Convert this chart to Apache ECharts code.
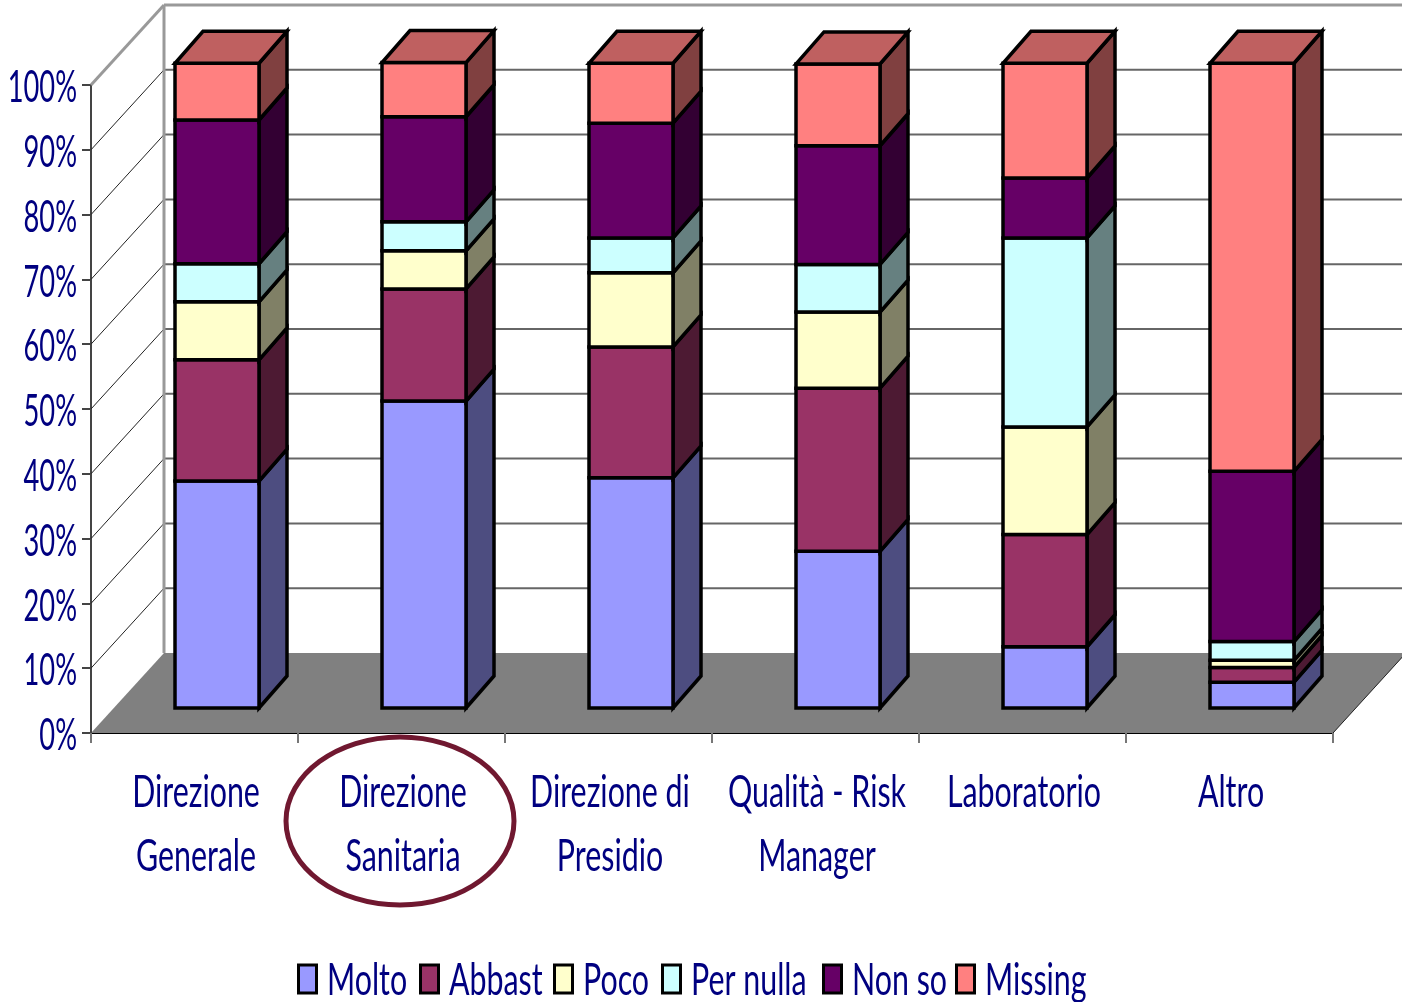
<!DOCTYPE html>
<html>
<head>
<meta charset="utf-8">
<style>html,body{margin:0;padding:0;background:#fff}#main{width:1402px;height:1002px}</style>
<script src="https://cdn.jsdelivr.net/npm/echarts@6/dist/echarts.min.js"></script>
</head>
<body>
<div id="main"></div>
<script>
var categories = ['Direzione\nGenerale', 'Direzione\nSanitaria', 'Direzione di\nPresidio', 'Qualità - Risk\nManager', 'Laboratorio', 'Altro'];
var seriesNames = ['Molto', 'Abbast', 'Poco', 'Per nulla', 'Non so', 'Missing'];
var molto = [35.2, 47.6, 35.7, 24.3, 9.5, 4.0];
var abbast = [18.8, 17.4, 20.3, 25.3, 17.4, 2.3];
var poco = [9.0, 5.9, 11.5, 11.8, 16.7, 1.1];
var perNulla = [5.9, 4.5, 5.4, 7.4, 29.3, 2.9];
var nonSo = [22.3, 16.3, 17.8, 18.4, 9.3, 26.4];
var missing = [8.8, 8.4, 9.3, 12.7, 17.8, 63.3];
var yTicks = [0, 10, 20, 30, 40, 50, 60, 70, 80, 90, 100];

var frontColors = ['#9999FF', '#993366', '#FFFFCC', '#CCFFFF', '#660066', '#FF8080'];
var sideColors = ['#4D4D80', '#4D1A33', '#808066', '#668080', '#330033', '#804040'];
var topColor = '#BF6060';
var textColor = '#000080';
var labelFont = '44px Lato, "Liberation Sans", sans-serif';
// the original font is a very tall narrow one, nothing installed comes close
var squeezeY = 0.62, squeezeText = 0.69;

var allValues = [molto, abbast, poco, perNulla, nonSo, missing];

// wall + floor, 3d offset of the back wall
var wallDx = 73, wallDy = -80;
var barDx = 22.5, barDy = -25, barW = 84, depthX = 28, depthY = -32;

function squeezedText(text, x, y, align, squeeze) {
  return {
    type: 'text', x: x, y: y, scaleX: squeeze, silent: true, z2: 5,
    style: {text: text, font: labelFont, fill: textColor, align: align, verticalAlign: 'top', lineHeight: 64}
  };
}

function renderWall(params, api) {
  var t = api.value(0);
  var cs = params.coordSys;
  var p = api.coord([0, t]);
  var x0 = cs.x, x1 = cs.x + cs.width, y = p[1];
  var kids = [squeezedText(t + '%', x0 - 14, y - 29, 'right', squeezeY)];
  if (t === 0) {
    kids.push({type: 'polygon', shape: {points: [[x0, y], [x0 + wallDx, y + wallDy], [x1 + wallDx, y + wallDy], [x1, y]]},
      style: {fill: '#808080'}});
    kids.push({type: 'line', shape: {x1: x1, y1: y, x2: x1 + wallDx, y2: y + wallDy}, style: {stroke: '#222', lineWidth: 1}});
    return {type: 'group', children: kids};
  }
  var top = t === 100;
  kids.push({type: 'line', shape: {x1: x0, y1: y, x2: x0 + wallDx, y2: y + wallDy},
    style: {stroke: top ? '#999' : '#222', lineWidth: top ? 3 : 1}});
  kids.push({type: 'line', shape: {x1: x0 + wallDx, y1: y + wallDy, x2: x1 + wallDx, y2: y + wallDy},
    style: {stroke: top ? '#999' : '#666', lineWidth: top ? 3 : 2}});
  if (top) {
    var py0 = api.coord([0, 0])[1];
    kids.push({type: 'line', shape: {x1: x0 + wallDx, y1: y + wallDy, x2: x0 + wallDx, y2: py0 + wallDy},
      style: {stroke: '#999', lineWidth: 3}});
  }
  return {type: 'group', children: kids};
}

function renderCategoryLabel(params, api) {
  var k = api.value(0);
  var p = api.coord([k, 0]);
  return squeezedText(categories[k], p[0] + 1.5, p[1] + 28, 'center', squeezeText);
}

function makeBarRenderer(idx) {
  return function (params, api) {
    var cat = api.value(0);
    var y0 = api.coord([cat, 0])[1];
    var cx = api.coord([cat, 0])[0] + barDx;
    var lo = y0 + (api.coord([cat, api.value(1)])[1] - y0) * 0.995 + barDy;
    var hi = y0 + (api.coord([cat, api.value(2)])[1] - y0) * 0.995 + barDy;
    var l = cx - barW / 2, r = cx + barW / 2;
    var edge = {stroke: '#000', lineWidth: 3.5, lineJoin: 'miter'};
    var kids = [
      {type: 'polygon', shape: {points: [[r, lo], [r + depthX, lo + depthY], [r + depthX, hi + depthY], [r, hi]]},
        style: Object.assign({fill: sideColors[idx]}, edge)},
      {type: 'polygon', shape: {points: [[l, lo], [r, lo], [r, hi], [l, hi]]},
        style: Object.assign({fill: frontColors[idx]}, edge)}
    ];
    if (idx === allValues.length - 1) {
      kids.push({type: 'polygon', shape: {points: [[l, hi], [r, hi], [r + depthX, hi + depthY], [l + depthX, hi + depthY]]},
        style: Object.assign({fill: topColor}, edge)});
    }
    return {type: 'group', children: kids};
  };
}

var series = [{
  type: 'custom', name: 'wall', silent: true, clip: false,
  coordinateSystem: 'cartesian2d',
  data: yTicks.map(function (t) { return [t]; }),
  encode: {y: 0},
  renderItem: renderWall
}, {
  type: 'custom', name: 'labels', silent: true, clip: false,
  coordinateSystem: 'cartesian2d',
  data: categories.map(function (c, k) { return [k]; }),
  encode: {x: 0},
  renderItem: renderCategoryLabel
}];

var running = categories.map(function () { return 0; });
seriesNames.forEach(function (name, i) {
  var rows = categories.map(function (c, k) {
    var base = running[k];
    running[k] = base + allValues[i][k];
    return [k, base, running[k]];
  });
  series.push({
    type: 'custom', name: name, clip: false,
    coordinateSystem: 'cartesian2d',
    encode: {x: 0, y: [1, 2]},
    data: rows,
    renderItem: makeBarRenderer(i)
  });
});

// legend is hand built so its text can be squeezed like the rest
var legendLeft = [297, 419, 553, 661, 822, 955];
var graphics = [{
  type: 'ellipse', silent: true, z: 10,
  shape: {cx: 400, cy: 821, rx: 114, ry: 84},
  style: {fill: 'none', stroke: '#701830', lineWidth: 5}
}];
seriesNames.forEach(function (name, i) {
  graphics.push({type: 'rect', silent: true, shape: {x: legendLeft[i] + 1.5, y: 965, width: 18, height: 28},
    style: {fill: frontColors[i], stroke: '#000', lineWidth: 3}});
  graphics.push(squeezedText(name, legendLeft[i] + 30, 949, 'left', squeezeText));
});

var myChart = echarts.init(document.getElementById('main'));
myChart.setOption({
  animation: false,
  backgroundColor: '#fff',
  grid: {left: 91, right: 69, top: 85, bottom: 269, outerBoundsMode: 'none'},
  xAxis: {
    type: 'category', data: categories,
    axisLine: {lineStyle: {color: '#000', width: 2}},
    axisTick: {show: true, length: 10, lineStyle: {color: '#777', width: 2}},
    axisLabel: {show: false}
  },
  yAxis: {
    type: 'value', min: 0, max: 100, interval: 10,
    splitLine: {show: false},
    axisLine: {show: true, lineStyle: {color: '#444', width: 2}},
    axisTick: {show: true, length: 9, lineStyle: {color: '#444', width: 2}},
    axisLabel: {show: false}
  },
  graphic: graphics,
  series: series
});
</script>
</body>
</html>
